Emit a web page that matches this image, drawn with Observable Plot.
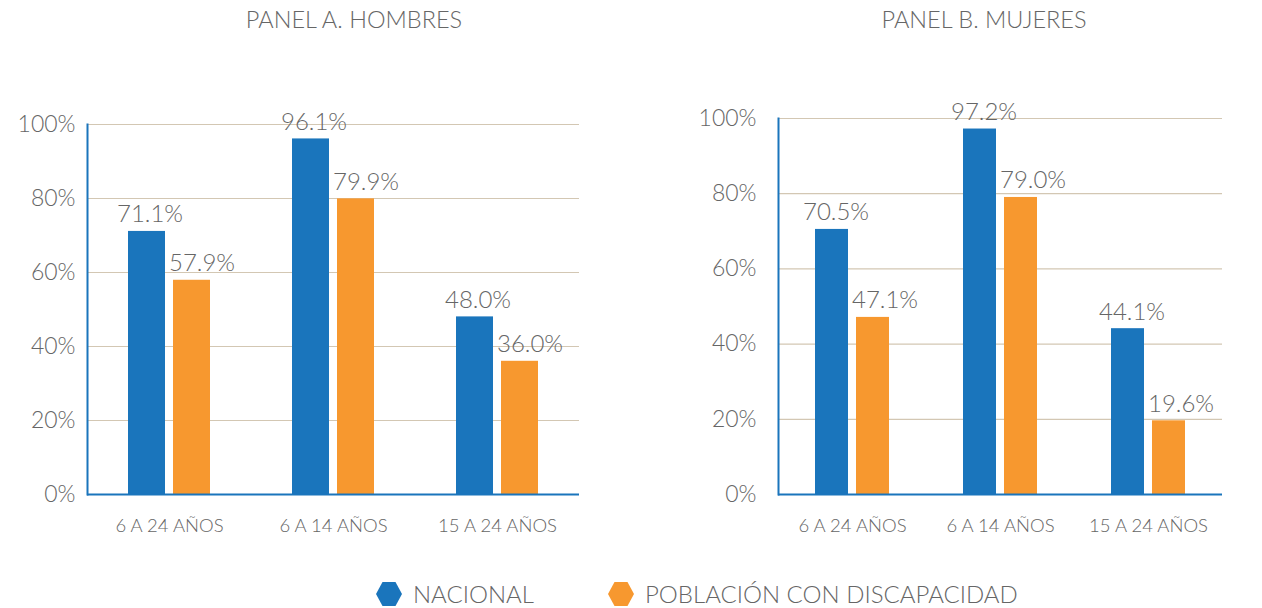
<!DOCTYPE html>
<html><head><meta charset="utf-8">
<script src="https://cdn.jsdelivr.net/npm/d3@7"></script>
<script src="https://cdn.jsdelivr.net/npm/@observablehq/plot@0.6"></script>
<style>
body{margin:0;background:#fff;font-family:Lato,"Open Sans",sans-serif;font-weight:300;color:#666}
#wrap{position:relative;width:1262px;height:608px;overflow:hidden}
.title{position:absolute;top:5px;font-size:23.5px;white-space:nowrap;transform:translateX(-50%);color:#666}
.panel{position:absolute;top:0}
#legend{position:absolute;top:579px;left:376px;display:flex;align-items:center;font-size:24px;white-space:nowrap;color:#666}
#legend .item{display:flex;align-items:center}
#legend svg{margin-right:11px}
</style></head>
<body><div id="wrap">
<div class="title" style="left:354px">PANEL A. HOMBRES</div>
<div class="title" style="left:984px">PANEL B. MUJERES</div>
<div class="panel" id="pa" style="left:0px"></div>
<div class="panel" id="pb" style="left:680px"></div>
<div id="legend"></div>
</div>
<script>
const categories = ["6 A 24 AÑOS", "6 A 14 AÑOS", "15 A 24 AÑOS"];
const series = ["NACIONAL", "POBLACIÓN CON DISCAPACIDAD"];
const hombresNacional = [71.1, 96.1, 48.0];
const hombresDiscapacidad = [57.9, 79.9, 36.0];
const mujeresNacional = [70.5, 97.2, 44.1];
const mujeresDiscapacidad = [47.1, 79.0, 19.6];
const yTicks = [0, 20, 40, 60, 80, 100];
const colors = ["#1a75bc", "#f7982f"];

function rows(nac, dis) {
  const out = [];
  categories.forEach((c, i) => {
    out.push({cat: c, series: series[0], value: nac[i]});
    out.push({cat: c, series: series[1], value: dis[i]});
  });
  return out;
}

function panel(data, o) {
  const lab = (s, dx) => Plot.text(data.filter(d => d.series === s), {
    fx: "cat", x: "series", y: "value", text: d => d.value.toFixed(1) + "%",
    lineAnchor: "bottom", dy: -9, dx, fontSize: 24, fill: "#666"
  });
  return Plot.plot({
    width: o.width, height: 550,
    marginLeft: o.marginLeft, marginRight: o.marginRight, marginTop: o.marginTop, marginBottom: 56,
    style: {fontFamily: "Lato, 'Open Sans', sans-serif", fontWeight: 300, color: "#666", background: "transparent", overflow: "visible"},
    fx: {domain: categories, padding: 0, label: null},
    x: {domain: series, paddingInner: o.pi, paddingOuter: o.po, axis: null},
    y: {domain: [0, 100], label: null},
    color: {domain: series, range: colors},
    marks: [
      Plot.ruleY(yTicks.slice(1), {stroke: "#d3c7b3", strokeWidth: 1.2}),
      Plot.barY(data, {fx: "cat", x: "series", y: "value", fill: "series"}),
      Plot.ruleY([0], {stroke: "#1a75bc", strokeWidth: 2}),
      Plot.frame({anchor: "left", facetAnchor: "left", stroke: "#1a75bc", strokeWidth: 2}),
      Plot.axisY({ticks: yTicks, tickSize: 0, tickPadding: o.tickPadding, tickFormat: d => d + "%",
        fontSize: 23, fill: "#666", label: null}),
      Plot.axisFx({anchor: "bottom", tickSize: 0, tickPadding: 24, fontSize: 18.5, fill: "#666", label: null}),
      lab(series[0], o.dxBlue),
      lab(series[1], o.dxOrange)
    ]
  });
}

document.getElementById("pa").append(panel(rows(hombresNacional, hombresDiscapacidad),
  {width: 630, marginLeft: 86, marginRight: 50, marginTop: 124, tickPadding: 12, pi: 0.174, po: 0.877, dxBlue: 3, dxOrange: 10}));
document.getElementById("pb").append(panel(rows(mujeresNacional, mujeresDiscapacidad),
  {width: 582, marginLeft: 97, marginRight: 40, marginTop: 118, tickPadding: 22, pi: 0.19, po: 0.86, dxBlue: 4, dxOrange: 12}));

const legend = document.getElementById("legend");
series.forEach((s, i) => {
  const item = document.createElement("div");
  item.className = "item";
  if (i > 0) item.style.marginLeft = "74px";
  item.innerHTML = `<svg width="26" height="24" viewBox="0 0 26 24"><polygon points="0,12 6.5,0 19.5,0 26,12 19.5,24 6.5,24" fill="${colors[i]}"/></svg><span>${s}</span>`;
  legend.append(item);
});
</script>
</body></html>
